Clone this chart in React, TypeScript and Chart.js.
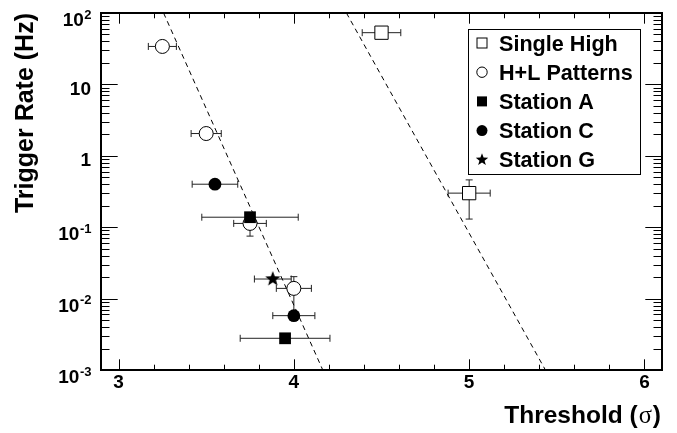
import { useEffect, useRef } from "react";
import { Chart, registerables } from "chart.js";
Chart.register(...registerables);

// ---------- data ----------
const singleHighX = [4.5, 5.0];
const singleHighY = [53, 0.3];
const singleHighXErr = [0.11, 0.12];
const singleHighYUp = [0, 0.16];
const singleHighYDown = [0, 0.17];

const hlX = [3.25, 3.5, 3.75, 4.0];
const hlY = [34, 2.05, 0.113, 0.0139];
const hlXErr = [0.08, 0.086, 0.093, 0.1];
const hlYUp = [0, 0, 0.03, 0.0064];
const hlYDown = [0, 0, 0.038, 0.0079];

const stAX = [3.75, 3.95];
const stAY = [0.138, 0.00278];
const stAXErr = [0.275, 0.256];

const stCX = [3.55, 4.0];
const stCY = [0.4, 0.00577];
const stCXErr = [0.13, 0.12];

const stGX = [3.88];
const stGY = [0.0188];
const stGXErr = [0.105];

const fit1X = [3.257, 4.165];
const fit1Y = [100, 0.001];
const fit2X = [4.3, 5.435];
const fit2Y = [100, 0.001];

const xTickValues = [3, 4, 5, 6];
const xTickLabels = ["3", "4", "5", "6"];
const yTickValues = [100, 10, 1, 0.1, 0.01, 0.001];
const yTickBase = ["10", "10", "1", "10", "10", "10"];
const yTickExp = ["2", "", "", "-1", "-2", "-3"];

const legendLabels = ["Single High", "H+L Patterns", "Station A", "Station C", "Station G"];
const xTitle = ["Threshold (", "σ", ")"];
const yTitle = "Trigger Rate (Hz)";

const SANS = '"Liberation Sans", Arial, Helvetica, sans-serif';
const SERIF = '"Liberation Serif", "DejaVu Serif", serif';

function toPts(xs: number[], ys: number[]) {
  return xs.map((x, i) => ({ x, y: ys[i] }));
}

function starPath(ctx: CanvasRenderingContext2D, cx: number, cy: number, R: number, r: number) {
  ctx.beginPath();
  for (let i = 0; i < 10; i++) {
    const rad = i % 2 === 0 ? R : r;
    const a = -Math.PI / 2 + (i * Math.PI) / 5;
    const px = cx + rad * Math.cos(a);
    const py = cy + rad * Math.sin(a);
    if (i === 0) ctx.moveTo(px, py);
    else ctx.lineTo(px, py);
  }
  ctx.closePath();
}

function makeStar(size: number, R: number) {
  const c = document.createElement("canvas");
  c.width = size;
  c.height = size;
  const g = c.getContext("2d")!;
  g.fillStyle = "#000";
  starPath(g, size / 2, size / 2, R, R * 0.42);
  g.fill();
  return c;
}

const errorBarPlugin = {
  id: "errorBars",
  beforeDatasetsDraw(chart: any) {
    const { ctx, chartArea, scales } = chart;
    const xs = scales.x;
    const ys = scales.y;
    ctx.save();
    ctx.beginPath();
    ctx.rect(chartArea.left, chartArea.top, chartArea.right - chartArea.left, chartArea.bottom - chartArea.top);
    ctx.clip();
    ctx.strokeStyle = "#222";
    ctx.lineWidth = 1;
    const cap = 3.5;
    chart.data.datasets.forEach((ds: any) => {
      if (!ds.errX) return;
      ds.data.forEach((p: any, i: number) => {
        const px = xs.getPixelForValue(p.x);
        const py = ys.getPixelForValue(p.y);
        const ex = ds.errX[i] || 0;
        if (ex > 0) {
          const l = xs.getPixelForValue(p.x - ex);
          const r = xs.getPixelForValue(p.x + ex);
          ctx.beginPath();
          ctx.moveTo(l, py);
          ctx.lineTo(r, py);
          ctx.moveTo(l, py - cap);
          ctx.lineTo(l, py + cap);
          ctx.moveTo(r, py - cap);
          ctx.lineTo(r, py + cap);
          ctx.stroke();
        }
        const up = ds.errYUp ? ds.errYUp[i] : 0;
        const dn = ds.errYDown ? ds.errYDown[i] : 0;
        if (up > 0 || dn > 0) {
          const t = ys.getPixelForValue(p.y + up);
          const b = ys.getPixelForValue(p.y - dn);
          ctx.beginPath();
          ctx.moveTo(px, t);
          ctx.lineTo(px, b);
          if (up > 0) {
            ctx.moveTo(px - cap, t);
            ctx.lineTo(px + cap, t);
          }
          if (dn > 0) {
            ctx.moveTo(px - cap, b);
            ctx.lineTo(px + cap, b);
          }
          ctx.stroke();
        }
      });
    });
    ctx.restore();
  },
};

const framePlugin = {
  id: "rootFrame",
  afterDraw(chart: any) {
    const { ctx, chartArea, scales } = chart;
    const xs = scales.x;
    const ys = scales.y;
    const { left, right, top, bottom } = chartArea;
    ctx.save();
    // ticks
    ctx.strokeStyle = "#000";
    ctx.lineWidth = 1;
    ctx.beginPath();
    for (let d = -3; d <= 2; d++) {
      for (let m = 1; m <= 9; m++) {
        const v = m * Math.pow(10, d);
        if (v > 100.0001) continue;
        const py = Math.round(ys.getPixelForValue(v)) + 0.5;
        const len = m === 1 ? 16.7 : 8.5;
        ctx.moveTo(left, py);
        ctx.lineTo(left + len, py);
        ctx.moveTo(right, py);
        ctx.lineTo(right - len, py);
      }
    }
    for (let k = 0; k <= 15; k++) {
      const v = 3 + k * 0.2;
      const px = Math.round(xs.getPixelForValue(v)) + 0.5;
      const len = k % 5 === 0 ? 10.7 : 5.3;
      ctx.moveTo(px, bottom);
      ctx.lineTo(px, bottom - len);
      ctx.moveTo(px, top);
      ctx.lineTo(px, top + len);
    }
    ctx.stroke();
    // frame
    ctx.lineWidth = 2;
    ctx.strokeRect(left, top, right - left, bottom - top);

    // x tick labels
    ctx.fillStyle = "#000";
    ctx.font = `bold 19px ${SANS}`;
    ctx.textAlign = "center";
    ctx.textBaseline = "alphabetic";
    xTickValues.forEach((v, i) => {
      ctx.fillText(xTickLabels[i], xs.getPixelForValue(v), 388);
    });

    // y tick labels
    const rightEdge = 91;
    yTickValues.forEach((v, i) => {
      const py = ys.getPixelForValue(v);
      const base = yTickBase[i];
      const exp = yTickExp[i];
      ctx.textAlign = "left";
      if (exp) {
        ctx.font = `bold 13px ${SANS}`;
        const we = ctx.measureText(exp).width;
        ctx.font = `bold 19px ${SANS}`;
        const wb = ctx.measureText(base).width;
        const x0 = rightEdge - we - wb;
        ctx.fillText(base, x0, py + 13);
        ctx.font = `bold 13px ${SANS}`;
        ctx.fillText(exp, x0 + wb + 0.5, py + 5.5);
      } else {
        ctx.font = `bold 19px ${SANS}`;
        const wb = ctx.measureText(base).width;
        ctx.fillText(base, rightEdge - wb, py + 10.5);
      }
    });

    // x title
    ctx.font = `bold 24.5px ${SANS}`;
    const w1 = ctx.measureText(xTitle[0]).width;
    const w3 = ctx.measureText(xTitle[2]).width;
    ctx.font = `24.5px ${SERIF}`;
    const w2 = ctx.measureText(xTitle[1]).width;
    let tx = 661 - (w1 + w2 + w3 + 2);
    ctx.textAlign = "left";
    ctx.font = `bold 24.5px ${SANS}`;
    ctx.fillText(xTitle[0], tx, 423);
    tx += w1 + 1;
    ctx.font = `24.5px ${SERIF}`;
    ctx.fillText(xTitle[1], tx, 423);
    tx += w2 + 1;
    ctx.font = `bold 24.5px ${SANS}`;
    ctx.fillText(xTitle[2], tx, 423);

    // y title
    ctx.save();
    ctx.translate(33, 13);
    ctx.rotate(-Math.PI / 2);
    ctx.textAlign = "right";
    ctx.font = `bold 25px ${SANS}`;
    ctx.fillText(yTitle, 0, 0);
    ctx.restore();

    // legend
    const lx = 468.5, ly = 29.5, lw = 172, lh = 145;
    ctx.fillStyle = "#fff";
    ctx.fillRect(lx, ly, lw, lh);
    ctx.lineWidth = 1;
    ctx.strokeStyle = "#000";
    ctx.strokeRect(lx, ly, lw, lh);
    ctx.font = `bold 21.6px ${SANS}`;
    ctx.textAlign = "left";
    legendLabels.forEach((lab, i) => {
      const cy = 43 + i * 29.2;
      const mx = 482;
      ctx.fillStyle = "#000";
      ctx.strokeStyle = "#000";
      ctx.lineWidth = 1;
      if (i === 0) {
        ctx.strokeRect(mx - 5, cy - 5, 10, 10);
      } else if (i === 1) {
        ctx.beginPath();
        ctx.arc(mx, cy, 5.2, 0, Math.PI * 2);
        ctx.stroke();
      } else if (i === 2) {
        ctx.fillRect(mx - 5, cy - 5, 10, 10);
      } else if (i === 3) {
        ctx.beginPath();
        ctx.arc(mx, cy, 5.5, 0, Math.PI * 2);
        ctx.fill();
      } else {
        starPath(ctx, mx, cy, 6.5, 2.7);
        ctx.fill();
      }
      ctx.fillText(lab, 499, cy + 7.5);
    });
    ctx.restore();
  },
};

export default function App() {
  const ref = useRef<HTMLCanvasElement | null>(null);
  useEffect(() => {
    document.body.style.margin = "0";
    const canvas = ref.current;
    if (!canvas) return;
    const star = makeStar(18, 8);
    const chart = new Chart(canvas, {
      type: "scatter",
      data: {
        datasets: [
          {
            label: "fit1",
            type: "line",
            data: toPts(fit1X, fit1Y),
            borderColor: "#000",
            borderWidth: 1,
            borderDash: [5, 4],
            pointRadius: 0,
            fill: false,
            order: 10,
          } as any,
          {
            label: "fit2",
            type: "line",
            data: toPts(fit2X, fit2Y),
            borderColor: "#000",
            borderWidth: 1,
            borderDash: [5, 4],
            pointRadius: 0,
            fill: false,
            order: 10,
          } as any,
          {
            label: "Single High",
            data: toPts(singleHighX, singleHighY),
            pointStyle: "rect",
            pointRadius: 9.4,
            backgroundColor: "#fff",
            borderColor: "#000",
            borderWidth: 1,
            errX: singleHighXErr,
            errYUp: singleHighYUp,
            errYDown: singleHighYDown,
            order: 1,
          } as any,
          {
            label: "H+L Patterns",
            data: toPts(hlX, hlY),
            pointStyle: "circle",
            pointRadius: 7,
            backgroundColor: "#fff",
            borderColor: "#000",
            borderWidth: 1,
            errX: hlXErr,
            errYUp: hlYUp,
            errYDown: hlYDown,
            order: 2,
          } as any,
          {
            label: "Station A",
            data: toPts(stAX, stAY),
            pointStyle: "rect",
            pointRadius: 8.3,
            backgroundColor: "#000",
            borderColor: "#000",
            borderWidth: 0,
            errX: stAXErr,
            order: 0,
          } as any,
          {
            label: "Station C",
            data: toPts(stCX, stCY),
            pointStyle: "circle",
            pointRadius: 6.4,
            backgroundColor: "#000",
            borderColor: "#000",
            borderWidth: 0,
            errX: stCXErr,
            order: 0,
          } as any,
          {
            label: "Station G",
            data: toPts(stGX, stGY),
            pointStyle: star,
            pointRadius: 8,
            backgroundColor: "#000",
            borderColor: "#000",
            errX: stGXErr,
            order: 0,
          } as any,
        ],
      },
      options: {
        responsive: false,
        animation: false,
        events: [],
        layout: { padding: { left: 101, top: 13, right: 15, bottom: 63 } },
        scales: {
          x: { type: "linear", min: 2.9, max: 6.1, display: false },
          y: { type: "logarithmic", min: 0.001, max: 100, display: false },
        },
        plugins: { legend: { display: false }, tooltip: { enabled: false } },
      },
      plugins: [errorBarPlugin, framePlugin],
    });
    return () => chart.destroy();
  }, []);
  return (
    <div style={{ width: 677, height: 433, background: "#fff" }}>
      <canvas ref={ref} width={677} height={433} style={{ display: "block" }} />
    </div>
  );
}
